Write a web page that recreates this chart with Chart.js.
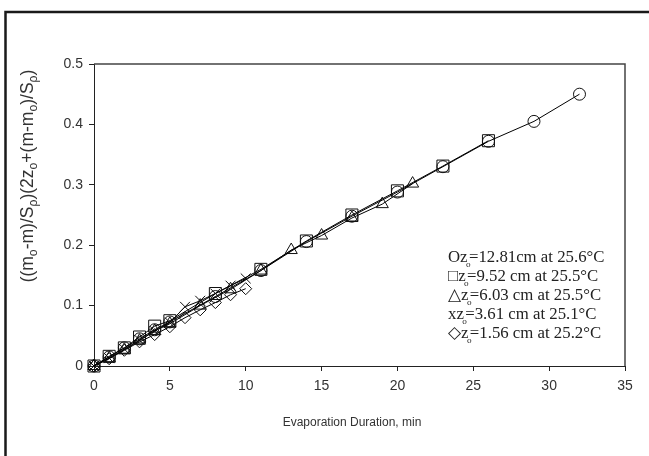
<!DOCTYPE html>
<html>
<head>
<meta charset="utf-8">
<script src="https://cdn.jsdelivr.net/npm/chart.js@4/dist/chart.umd.min.js"></script>
<style>
  html, body { margin: 0; padding: 0; background: #fff; }
</style>
</head>
<body>
<canvas id="chartCanvas" width="649" height="456"></canvas>
<script>
// min vs (dimensionless)
const timesZ1281 = [0, 1, 2, 3, 4, 5, 8, 11, 14, 17, 20, 23, 26, 29, 32];
const valuesZ1281 = [0, 0.015, 0.030, 0.045, 0.060, 0.073, 0.115, 0.158, 0.206, 0.248, 0.288, 0.330, 0.372, 0.405, 0.450];

const timesZ952 = [0, 1, 2, 3, 4, 5, 8, 11, 14, 17, 20, 23, 26];
const valuesZ952 = [0, 0.016, 0.030, 0.048, 0.066, 0.075, 0.120, 0.160, 0.207, 0.250, 0.290, 0.331, 0.373];

const timesZ603 = [0, 1, 2, 3, 4, 5, 7, 9, 11, 13, 15, 17, 19, 21];
const valuesZ603 = [0, 0.013, 0.027, 0.042, 0.058, 0.070, 0.100, 0.127, 0.158, 0.192, 0.216, 0.245, 0.268, 0.302];

const timesZ361 = [0, 1, 2, 3, 4, 5, 6, 7, 8, 9, 10];
const valuesZ361 = [0, 0.013, 0.028, 0.043, 0.058, 0.072, 0.098, 0.108, 0.120, 0.133, 0.145];

const timesZ156 = [0, 1, 2, 3, 4, 5, 6, 7, 8, 9, 10];
const valuesZ156 = [0, 0.012, 0.026, 0.040, 0.052, 0.065, 0.080, 0.093, 0.105, 0.118, 0.128];

const legendSymbols = ['O', '\u25A1', '\u25B3', 'x', '\u25C7'];
const legendTexts = ['=12.81cm at 25.6\u00B0C', '=9.52 cm at 25.5\u00B0C', '=6.03 cm at 25.5\u00B0C',
                     '=3.61 cm at 25.1\u00B0C', '=1.56 cm at 25.2\u00B0C'];

const xTitle = 'Evaporation Duration, min';
// y title pieces, sub = drawn as subscript
const yTitleParts = [
    {t: '((m'}, {t: 'o', sub: true}, {t: '-m)/S'}, {t: '\u03C1', sub: true},
    {t: ')(2z'}, {t: 'o', sub: true}, {t: '+(m-m'}, {t: 'o', sub: true},
    {t: ')/S'}, {t: '\u03C1', sub: true}, {t: ')'}
];

const sans = '"Liberation Sans", Arial, sans-serif';
const serif = '"Liberation Serif", "Times New Roman", serif';

const toPoints = (xs, ys) => xs.map((x, i) => ({x: x, y: ys[i]}));

function series(xs, ys, style, radius) {
    return {
        data: toPoints(xs, ys),
        showLine: true,
        borderColor: '#000',
        borderWidth: 1,
        backgroundColor: 'rgba(0,0,0,0)',
        pointBorderColor: '#111',
        pointBackgroundColor: 'rgba(0,0,0,0)',
        pointBorderWidth: 1,
        pointStyle: style,
        pointRadius: radius,
        pointHoverRadius: radius,
        tension: 0,
        clip: false
    };
}

function drawRich(ctx, parts, x, y, size, family) {
    let w = 0;
    parts.forEach(p => {
        ctx.font = (p.sub ? size * 0.7 : size) + 'px ' + family;
        w += ctx.measureText(p.t).width;
    });
    let cx = x - w / 2;
    parts.forEach(p => {
        ctx.font = (p.sub ? size * 0.7 : size) + 'px ' + family;
        ctx.fillText(p.t, cx, y + (p.sub ? size * 0.3 : 0));
        cx += ctx.measureText(p.t).width;
    });
}

const decorPlugin = {
    id: 'decor',
    beforeDraw(chart) {
        const ctx = chart.ctx;
        ctx.save();
        ctx.fillStyle = '#fff';
        ctx.fillRect(0, 0, chart.width, chart.height);
        // outer frame (left + top only)
        ctx.strokeStyle = '#1a1a1a';
        ctx.lineWidth = 2.5;
        ctx.beginPath();
        ctx.moveTo(5.5, chart.height);
        ctx.lineTo(5.5, 12);
        ctx.lineTo(chart.width, 12);
        ctx.stroke();
        ctx.restore();
    },
    afterDraw(chart) {
        const ctx = chart.ctx;
        const a = chart.chartArea;
        ctx.save();
        // plot box top and right
        ctx.strokeStyle = '#444';
        ctx.lineWidth = 1.5;
        ctx.beginPath();
        ctx.moveTo(a.left, a.top);
        ctx.lineTo(a.right, a.top);
        ctx.lineTo(a.right, a.bottom);
        ctx.stroke();

        // x title
        ctx.fillStyle = '#333';
        ctx.textBaseline = 'middle';
        ctx.textAlign = 'center';
        ctx.font = '12px ' + sans;
        ctx.fillText(xTitle, 352, 423);

        // y title, rotated
        ctx.textAlign = 'left';
        ctx.translate(28, 176);
        ctx.rotate(-Math.PI / 2);
        drawRich(ctx, yTitleParts, 0, 0, 17.5, sans);
        ctx.restore();

        // legend text inside the plot
        ctx.save();
        ctx.fillStyle = '#222';
        ctx.textBaseline = 'middle';
        ctx.textAlign = 'left';
        const size = 16.8;
        for (let i = 0; i < legendSymbols.length; i++) {
            let x = 448;
            const y = 258 + i * 19;
            ctx.font = size + 'px ' + serif;
            const head = legendSymbols[i] + 'z';
            ctx.fillText(head, x, y);
            x += ctx.measureText(head).width;
            ctx.font = (size * 0.55) + 'px ' + serif;
            ctx.fillText('o', x - 1.5, y + size * 0.4);
            x += ctx.measureText('o').width * 0.3;
            ctx.font = size + 'px ' + serif;
            ctx.fillText(legendTexts[i], x, y);
        }
        ctx.restore();
    }
};

const tickFont = {family: sans, size: 14};

const chart = new Chart(document.getElementById('chartCanvas').getContext('2d'), {
    type: 'scatter',
    data: {
        datasets: [
            series(timesZ1281, valuesZ1281, 'circle', 6),
            series(timesZ952, valuesZ952, 'rect', 8.5),
            series(timesZ603, valuesZ603, 'triangle', 7),
            series(timesZ361, valuesZ361, 'crossRot', 7),
            series(timesZ156, valuesZ156, 'rectRot', 6)
        ]
    },
    options: {
        responsive: false,
        animation: false,
        devicePixelRatio: 1,
        layout: {padding: {left: 0, right: 24, top: 64, bottom: 0}},
        plugins: {
            legend: {display: false},
            tooltip: {enabled: false}
        },
        scales: {
            x: {
                type: 'linear',
                min: 0,
                max: 35,
                afterFit: s => { s.height = 90; },
                ticks: {stepSize: 5, color: '#333', font: tickFont, padding: 7},
                grid: {drawOnChartArea: false, tickLength: 5, color: '#222'},
                border: {color: '#222', width: 1}
            },
            y: {
                type: 'linear',
                min: 0,
                max: 0.5,
                afterFit: s => { s.width = 94; },
                ticks: {stepSize: 0.1, color: '#333', font: tickFont, padding: 6},
                grid: {drawOnChartArea: false, tickLength: 5, color: '#222'},
                border: {color: '#222', width: 1}
            }
        }
    },
    plugins: [decorPlugin]
});
</script>
</body>
</html>
